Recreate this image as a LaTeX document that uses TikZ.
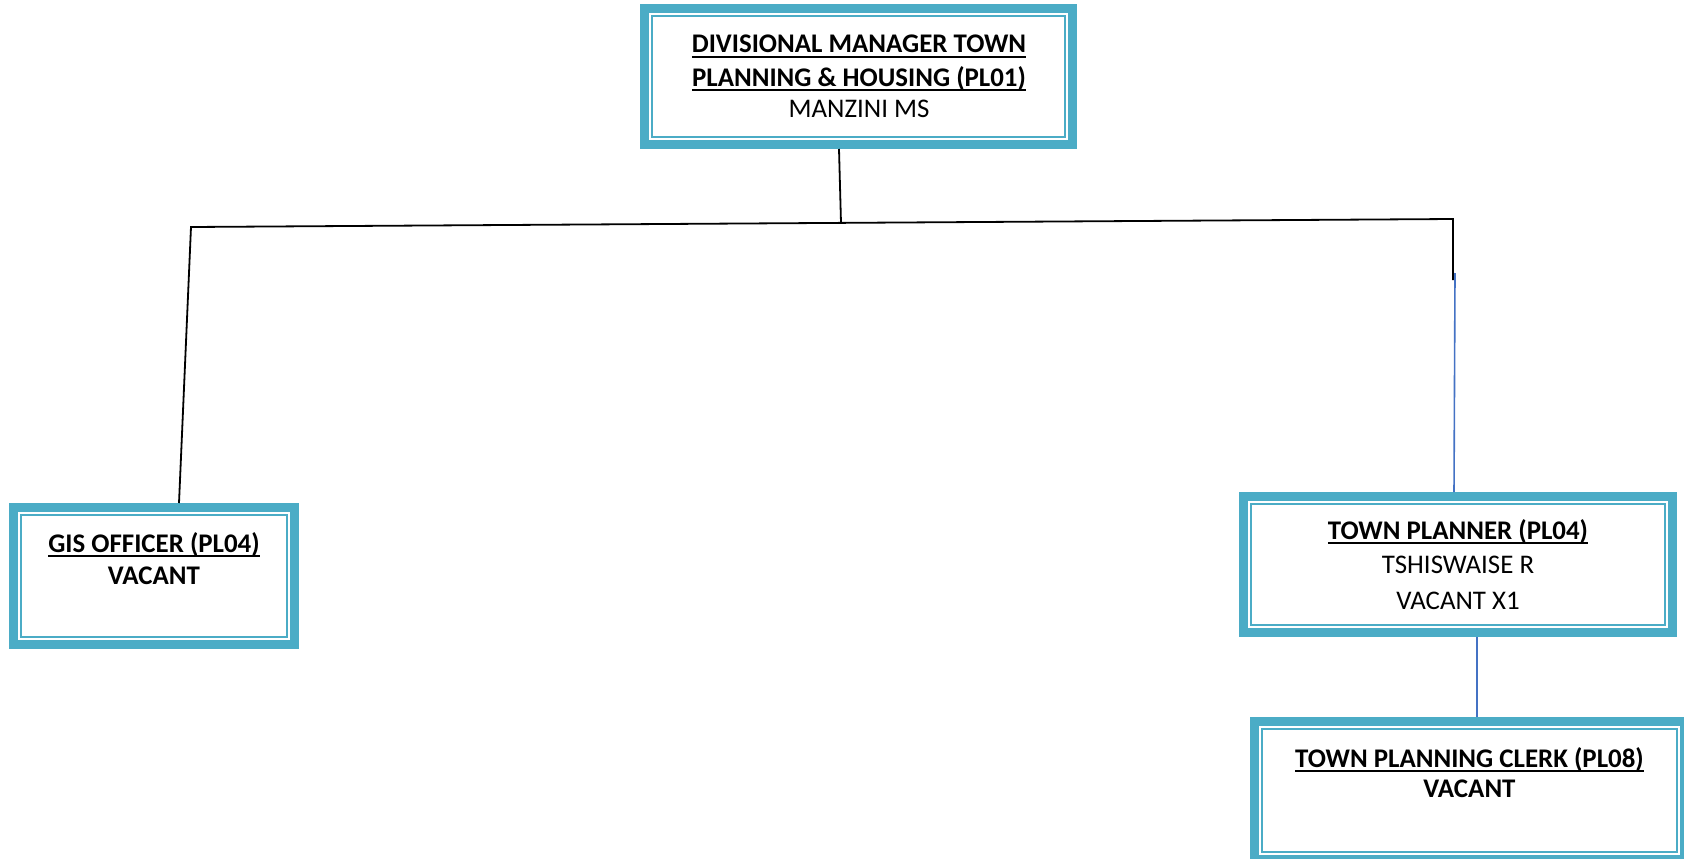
\documentclass[tikz,border=0pt]{standalone}
\usepackage{fontspec}
\setmainfont{Carlito}
\definecolor{aqua}{HTML}{4BACC6}
\definecolor{connblue}{HTML}{4472C4}
\newcommand\myul[1]{\setbox0\hbox{#1}\rlap{\rule[-4.5pt]{\wd0}{2pt}}\box0}
\begin{document}
\begin{tikzpicture}[x=1pt,y=-1pt,
  orgbox/.style={draw=aqua, line width=9pt, fill=white, inner sep=0pt},
  innerline/.style={draw=aqua, line width=2pt},
  ttl/.style={font=\fontsize{26.9}{32}\selectfont\bfseries, anchor=base, inner sep=0pt},
  nm/.style={font=\fontsize{26.9}{32}\selectfont, anchor=base, inner sep=0pt},
  conn/.style={draw=black, line width=1.8pt},
  bconn/.style={draw=connblue, line width=1.6pt}]
\useasboundingbox (0,0) rectangle (1684,859);
\clip (0,0) rectangle (1684,859);
% boxes
\node[orgbox, minimum width=428pt, minimum height=136pt] (top) at (858.5,76.5) {};
\node[orgbox, minimum width=281pt, minimum height=137pt] (gis) at (154,576) {};
\node[orgbox, minimum width=429pt, minimum height=136pt] (tp) at (1458,564.5) {};
\node[orgbox, minimum width=430pt, minimum height=138pt] (clerk) at (1469.5,790.5) {};
\foreach \n in {top,gis,tp,clerk}
  \draw[innerline] ([shift={(12pt,-12pt)}]\n.north west) rectangle ([shift={(-12pt,12pt)}]\n.south east);
% texts
\node[ttl] (topa) at (859,53) {\myul{DIVISIONAL MANAGER TOWN}};
\node[ttl] (topb) at (859,86) {\myul{PLANNING \& HOUSING (PL01)}};
\node[nm] (topc) at (859,117) {MANZINI MS};
\node[ttl] (gisa) at (154,552) {\myul{GIS OFFICER (PL04)}};
\node[ttl] (gisb) at (154,584) {VACANT};
\node[ttl] (tpa) at (1458,539) {\myul{TOWN PLANNER (PL04)}};
\node[nm] (tpb) at (1458,573) {TSHISWAISE R};
\node[nm] (tpc) at (1458,609) {VACANT X1};
\node[ttl] (clerka) at (1469.5,767) {\myul{TOWN PLANNING CLERK (PL08)}};
\node[ttl] (clerkb) at (1469.5,797) {VACANT};
% connectors
\coordinate (jl) at (191,227);
\coordinate (jm) at (841,223);
\coordinate (jr) at (1453,219);
\coordinate (jrb) at (1453,280);
\coordinate (br) at (1455,273);
\draw[conn] ([xshift=-19.5pt]top.south) -- (jm);
\draw[conn, line join=miter] ([xshift=25pt]gis.north) -- (jl) -- (jr) -- (jrb);
\draw[bconn] (br) -- ([xshift=-4pt]tp.north);
\draw[bconn] ([xshift=19pt]tp.south) -- ([xshift=7.5pt]clerk.north);
\end{tikzpicture}
\end{document}
